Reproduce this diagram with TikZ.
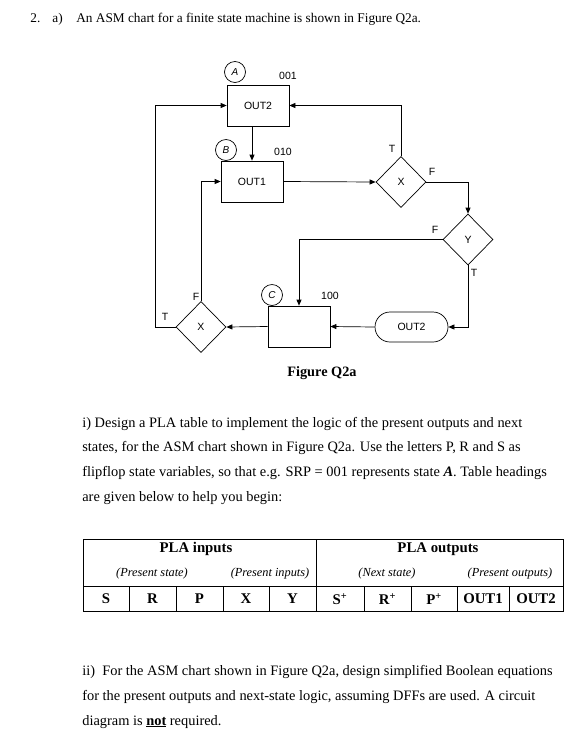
\documentclass[tikz,border=0pt]{standalone}
\usepackage{fontspec}
\setmainfont{Liberation Serif}
\newfontfamily\chartfont{Liberation Sans}
\usetikzlibrary{shapes.geometric,arrows.meta}
\begin{document}
\begin{tikzpicture}[x=1pt,y=-1pt,
  line width=0.7pt,
  arr/.style={-{Triangle[length=6pt,width=5pt]}},
  statebox/.style={draw,minimum width=62pt,minimum height=41pt,inner sep=0pt,font=\chartfont\fontsize{10.5}{12}\selectfont},
  decide/.style={draw,diamond,minimum width=50pt,minimum height=51pt,inner sep=0pt,font=\chartfont\fontsize{10.5}{12}\selectfont},
  condout/.style={draw,rounded corners=15pt,minimum width=73pt,minimum height=30pt,inner sep=0pt,font=\chartfont\fontsize{10.5}{12}\selectfont},
  stname/.style={draw,circle,minimum size=21pt,inner sep=0pt,font=\chartfont\itshape\fontsize{10}{12}\selectfont},
  lbl/.style={inner sep=0pt,font=\chartfont\fontsize{10.5}{12}\selectfont},
  body/.style={anchor=base west,inner sep=0pt,font=\fontsize{14.4}{17}\selectfont},
  tbl/.style={line width=0.9pt},
  thead/.style={inner sep=0pt,font=\bfseries\fontsize{14.8}{17}\selectfont},
  tcell/.style={inner sep=0pt,font=\bfseries\fontsize{14.8}{17}\selectfont},
  tsub/.style={inner sep=0pt,font=\itshape\fontsize{12.3}{14}\selectfont}
]
\useasboundingbox (0,0) rectangle (569,748);

% heading
\node[body,font=\fontsize{13.3}{16}\selectfont] (q2) at (30,22) {2.};
\node[body,font=\fontsize{13.3}{16}\selectfont] (qa) at (52,22) {a)};
\node[body,font=\fontsize{13.3}{16}\selectfont] (qt) at (76,22) {An ASM chart for a finite state machine is shown in Figure Q2a.};

% ASM chart
\node[statebox] (boxA) at (258,105.5) {OUT2};
\node[statebox] (boxB) at (252,181.5) {OUT1};
\node[statebox] (boxC) at (299,326.5) {};
\node[decide] (dX1) at (401,182) {X};
\node[decide] (dY) at (468,239.5) {Y};
\node[decide] (dX2) at (201,327) {X};
\node[condout] (ovl) at (411.5,327) {OUT2};

\node[stname] (cA) at (235,72) {A};
\node[stname] (cB) at (226,150) {B};
\node[stname] (cC) at (272,295) {C};
\node[lbl] (codeA) at (288,76) {001};
\node[lbl] (codeB) at (283,152) {010};
\node[lbl] (codeC) at (330,296) {100};

\node[lbl] (t1) at (392,149) {T};
\node[lbl] (f1) at (432,172) {F};
\node[lbl] (f2) at (435,230) {F};
\node[lbl] (t2) at (474,273) {T};
\node[lbl] (t3) at (165,317) {T};
\node[lbl] (f3) at (196,297) {F};

\coordinate (lft) at (155,327);

\draw[arr] (boxB.north |- boxA.south) -- (boxB.north);
\draw[arr] (boxB.east) -- (dX1.west);
\draw[arr] (dX1.north) |- (boxA.east);
\draw[arr] (dX1.east) -| (dY.north);
\draw[arr] (dY.west) -| (boxC.north);
\draw[arr] (dY.south) |- (ovl.east);
\draw[arr] (ovl.west) -- (boxC.east);
\draw[arr] (boxC.west) -- (dX2.east);
\draw[arr] (dX2.west) -- (lft) |- (boxA.west);
\draw[arr] (dX2.north) |- (boxB.west);

\node[inner sep=0pt,font=\bfseries\fontsize{14.3}{17}\selectfont] (cap) at (322,373) {Figure Q2a};

% part i
\node[body] (i1) at (82,427) {i) Design a PLA table to implement the logic of the present outputs and next};
\node[body] (i2) at (82,451.7) {states, for the ASM chart shown in Figure Q2a. Use the letters P, R and S as};
\node[body] (i3) at (82,476.4) {flipflop state variables, so that e.g. SRP = 001 represents state \textbf{\textit{A}}. Table headings};
\node[body] (i4) at (82,501) {are given below to help you begin:};

% table
\draw[tbl] (83,539) rectangle (563,611);
\draw[tbl] (83,586) -- (563,586);
\draw[tbl] (316,539) -- (316,611);
\foreach \cx in {129,176,223,269,364,411,457,509}
  \draw[tbl] (\cx,586) -- (\cx,611);

\node[thead] (hin) at (196,549) {PLA inputs};
\node[thead] (hout) at (438,549) {PLA outputs};
\node[tsub] (sps) at (152,574) {(Present state)};
\node[tsub] (spi) at (270,574) {(Present inputs)};
\node[tsub] (sns) at (387,574) {(Next state)};
\node[tsub] (spo) at (510,574) {(Present outputs)};

\node[tcell] (cS) at (106,599) {S};
\node[tcell] (cR) at (152.5,599) {R};
\node[tcell] (cP) at (199.5,599) {P};
\node[tcell] (cX) at (246,599) {X};
\node[tcell] (cY) at (292.5,599) {Y};
\node[tcell] (cS2) at (340,599) {S\textsuperscript{+}};
\node[tcell] (cR2) at (387.5,599) {R\textsuperscript{+}};
\node[tcell] (cP2) at (434,599) {P\textsuperscript{+}};
\node[tcell] (cO1) at (483,599) {OUT1};
\node[tcell] (cO2) at (536,599) {OUT2};

% part ii
\node[body] (ii1) at (82,675) {ii)\ \ For the ASM chart shown in Figure Q2a, design simplified Boolean equations};
\node[body] (ii2) at (82,700) {for the present outputs and next-state logic, assuming DFFs are used. A circuit};
\node[body] (ii3) at (82,725) {diagram is \underline{\textbf{not}} required.};
\end{tikzpicture}
\end{document}
